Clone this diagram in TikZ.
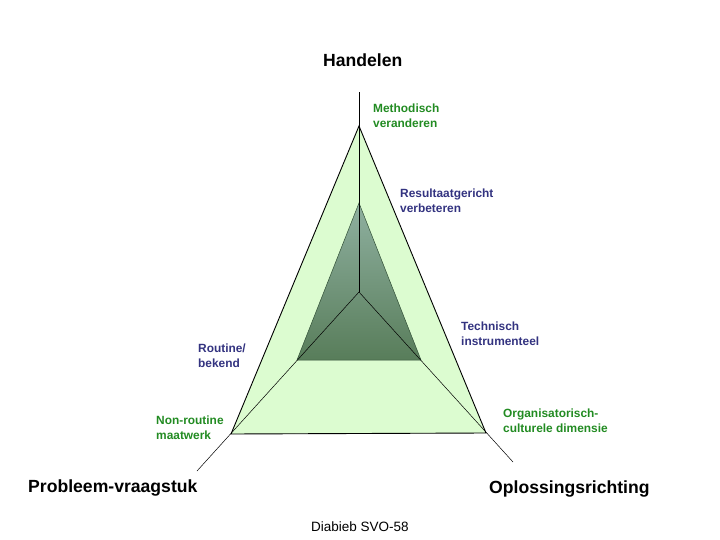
\documentclass[tikz,border=0pt]{standalone}
\usepackage{fontspec}
\setmainfont{Liberation Sans}
\definecolor{lichtgroen}{RGB}{220,252,208}
\definecolor{tekstgroen}{RGB}{34,139,34}
\definecolor{tekstblauw}{RGB}{51,51,128}
\definecolor{donkerboven}{RGB}{143,176,160}
\definecolor{donkeronder}{RGB}{88,125,90}
\definecolor{donkerrand}{RGB}{50,80,55}
\begin{document}
\begin{tikzpicture}[x=1pt,y=-1pt,
	as/.style={line width=0.5pt,black},
	rand/.style={line width=0.9pt,black},
	klein/.style={anchor=north west,inner sep=0pt,align=left,font=\bfseries\fontsize{11.9}{14.5}\selectfont},
	groot/.style={anchor=north west,inner sep=0pt,font=\bfseries\fontsize{17.6}{20}\selectfont}]
				\useasboundingbox (0,0) rectangle (720,540);
				\coordinate (midden) at (359,292);
				\coordinate (boven) at (359,92);
				\coordinate (links) at (197,471);
				\coordinate (rechts) at (513,462);
				%--
				\coordinate (buitentop) at (359,126);
				\coordinate (buitenlinks) at (231,434);
				\coordinate (buitenrechts) at (486,433);
				\fill[lichtgroen] (buitentop) -- (buitenlinks) -- (buitenrechts) -- cycle;
				\draw[rand] (buitentop) -- (buitenlinks) -- (buitenrechts) -- cycle;
				%--
				\coordinate (binnentop) at (359,203);
				\coordinate (binnenlinks) at (297,360);
				\coordinate (binnenrechts) at (421,360);
				\shade[top color=donkerboven,bottom color=donkeronder] (binnentop) -- (binnenlinks) -- (binnenrechts) -- cycle;
				\draw[donkerrand,line width=0.5pt] (binnentop) -- (binnenlinks) -- (binnenrechts) -- cycle;
				%--
				\draw[as] (midden) -- (boven);
				\draw[as] (midden) -- (links);
				\draw[as] (midden) -- (rechts);
				%--
				\node[groot] (handelen) at (323,54) {Handelen};
				\node[groot] (probleem) at (28,480) {Probleem-vraagstuk};
				\node[groot] (oplossing) at (489,481) {Oplossingsrichting};
				%--
				\node[klein,tekstgroen] (methodisch) at (373,104) {Methodisch\\veranderen};
				\node[klein,tekstblauw] (resultaat) at (400,189) {Resultaatgericht\\verbeteren};
				\node[klein,tekstblauw] (technisch) at (461,322) {Technisch\\instrumenteel};
				\node[klein,tekstblauw] (routine) at (198,344) {Routine/\\bekend};
				\node[klein,tekstgroen] (nonroutine) at (156,416) {Non-routine\\maatwerk};
				\node[klein,tekstgroen] (organisatorisch) at (503,409) {Organisatorisch-\\culturele dimensie};
				%--
				\node[anchor=north west,inner sep=0pt,font=\fontsize{13.5}{16}\selectfont] (bron) at (311,522) {Diabieb SVO-58};
			\end{tikzpicture}
\end{document}
